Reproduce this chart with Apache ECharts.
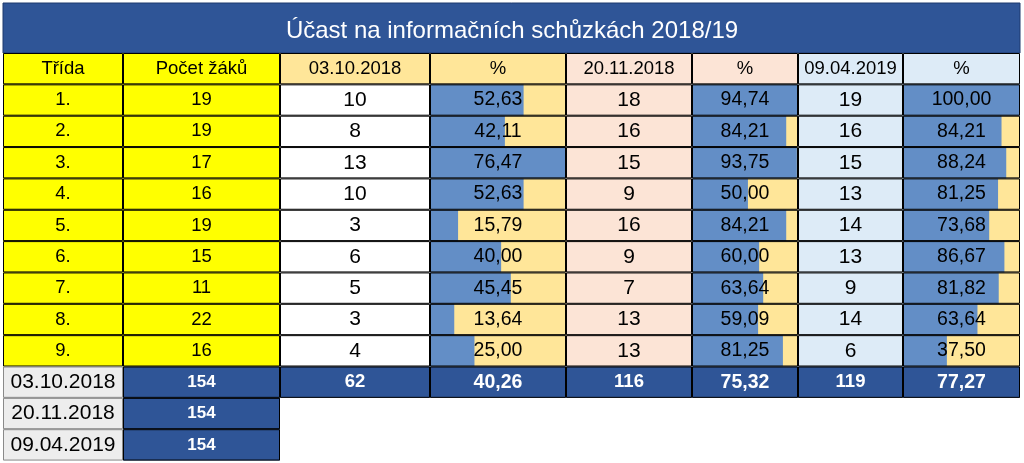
<!DOCTYPE html>
<html><head><meta charset="utf-8">
<script src="https://cdn.jsdelivr.net/npm/echarts@6/dist/echarts.min.js"></script>
<style>html,body{margin:0;padding:0;background:#fff}#c{width:1024px;height:463px}</style>
</head><body><div id="c"></div>
<script>
// ---- data ----
const titleText = 'Účast na informačních schůzkách 2018/19';
const headers = ['Třída','Počet žáků','03.10.2018','%','20.11.2018','%','09.04.2019','%'];
const tridy = ['1.','2.','3.','4.','5.','6.','7.','8.','9.'];
const pocetZaku = [19,19,17,16,19,15,11,22,16];
const ucast1 = [10,8,13,10,3,6,5,3,4];
const pct1 = [52.63,42.11,76.47,52.63,15.79,40.00,45.45,13.64,25.00];
const ucast2 = [18,16,15,9,16,9,7,13,13];
const pct2 = [94.74,84.21,93.75,50.00,84.21,60.00,63.64,59.09,81.25];
const ucast3 = [19,16,15,13,14,13,9,14,6];
const pct3 = [100.00,84.21,88.24,81.25,73.68,86.67,81.82,63.64,37.50];
const terminy = ['03.10.2018','20.11.2018','09.04.2019'];
const zakuCelkem = [154,154,154];
const ucastCelkem = [62,116,119];
const pctCelkem = [40.26,75.32,77.27];

// ---- style ----
const FONT = '"Liberation Sans", Arial, sans-serif';
const BLUE = '#2F5597', BAR = '#638EC6', GOLD = '#FFE699', PEACH = '#FCE4D6', LBLUE = '#DDEBF7', YEL = '#FFFF00', GRAY = '#EDEDED';
const colLeft = [3,123,280,430,566,692,798,903,1020];
const TOP = 53, ROWH = 31.35;
const fmtPct = v => v.toFixed(2).replace('.', ',');

function cell(text, bg, opt) { return Object.assign({text, bg, color:'#000', size:19, weight:'normal', border:'#000'}, opt||{}); }
const columns = [];
columns.push({cells:[cell(headers[0],YEL,{size:18.5})]
  .concat(tridy.map(t=>cell(t,YEL,{size:18.5})))
  .concat(terminy.map(t=>cell(t,GRAY,{size:21, border:'#8a8a8a'})))});
columns.push({cells:[cell(headers[1],YEL,{size:18.5})]
  .concat(pocetZaku.map(v=>cell(String(v),YEL,{size:18.5})))
  .concat(zakuCelkem.map(v=>cell(String(v),BLUE,{size:17,color:'#fff',weight:'bold'})))});
const sessions = [[ucast1,pct1,GOLD,'#fff'],[ucast2,pct2,PEACH,PEACH],[ucast3,pct3,LBLUE,LBLUE]];
sessions.forEach((s,k)=>{
  const [cnt,pct,hdr,cntBg] = s;
  columns.push({cells:[cell(headers[2+2*k],hdr,{size:18.5})]
    .concat(cnt.map(v=>cell(String(v),cntBg,{size:21})))
    .concat([cell(String(ucastCelkem[k]),BLUE,{size:18.5,color:'#fff',weight:'bold'})])});
  columns.push({bars:pct, cells:[cell(headers[3+2*k],hdr,{size:18.5})]
    .concat(pct.map(v=>cell(fmtPct(v),GOLD,{size:19.5})))
    .concat([cell(fmtPct(pctCelkem[k]),BLUE,{size:19.5,color:'#fff',weight:'bold'})])});
});

const grid=[], xAxis=[], yAxis=[], series=[];
columns.forEach((col,i)=>{
  const n = col.cells.length;
  const max = col.bars ? Math.max.apply(null, col.bars) : 1;
  grid.push({left:colLeft[i], width:colLeft[i+1]-colLeft[i], top:TOP, height:n*ROWH});
  xAxis.push({type:'value', gridIndex:i, min:0, max:max, show:false});
  yAxis.push({type:'category', gridIndex:i, inverse:true, show:false, data:col.cells.map((c,j)=>j)});
  // cell backgrounds
  series.push({type:'bar', xAxisIndex:i, yAxisIndex:i, barWidth:'100%', barGap:'-100%', silent:true,
    data: col.cells.map(c=>({value:max, itemStyle:{color:c.bg}})), z:1});
  // data bars
  if (col.bars) {
    series.push({type:'bar', xAxisIndex:i, yAxisIndex:i, barWidth:'100%', barGap:'-100%', silent:true,
      data: [null].concat(col.bars).concat([null]), itemStyle:{color:BAR}, z:2});
  }
  // borders + text
  series.push({type:'bar', xAxisIndex:i, yAxisIndex:i, barWidth:'100%', barGap:'-100%', silent:true, z:3,
    data: col.cells.map(c=>({value:max,
      itemStyle:{color:'rgba(0,0,0,0)', borderColor:c.border, borderWidth:1},
      label:{show:true, position:'inside', formatter:c.text, color:c.color, fontSize:c.size, fontWeight:c.weight, fontFamily:FONT}}))});
});

const chart = echarts.init(document.getElementById('c'), null, {renderer:'canvas'});
chart.setOption({
  animation:false,
  backgroundColor:'#fff',
  title:{text:titleText, left:'center', top:14, textStyle:{color:'#fff', fontSize:24, fontWeight:'normal', fontFamily:FONT}},
  graphic:[{type:'rect', z:-1, shape:{x:3, y:3, width:1017, height:50}, style:{fill:BLUE, stroke:'#1f3a6e', lineWidth:1}}],
  grid, xAxis, yAxis, series
});
</script></body></html>
